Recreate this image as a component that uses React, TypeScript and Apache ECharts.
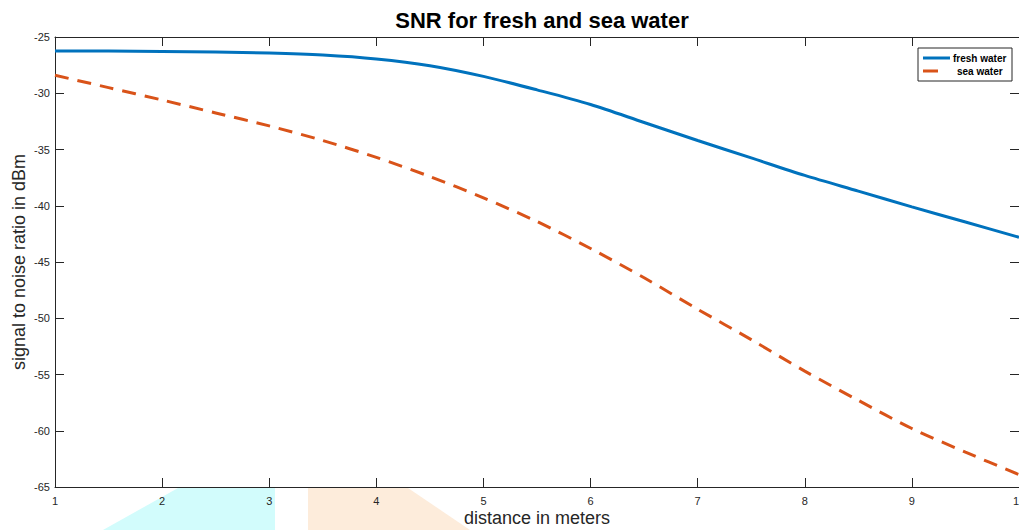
import React, { useEffect, useRef } from "react";
import * as echarts from "echarts";

const distance = [1, 1.5, 2, 2.5, 3, 3.5, 4, 4.5, 5, 5.5, 6, 6.5, 7, 7.5, 8, 8.5, 9, 9.5, 10];
const freshWater = [-26.24, -26.25, -26.28, -26.33, -26.42, -26.6, -26.95, -27.55, -28.5, -29.7, -31.0, -32.6, -34.2, -35.75, -37.3, -38.7, -40.1, -41.45, -42.8];
const seaWater = [-28.4, -29.5, -30.6, -31.75, -32.9, -34.2, -35.7, -37.4, -39.3, -41.4, -43.8, -46.4, -49.2, -51.9, -54.7, -57.3, -59.8, -61.9, -63.9];
const xTicks = [1, 2, 3, 4, 5, 6, 7, 8, 9, 10];
const yTicks = [-65, -60, -55, -50, -45, -40, -35, -30, -25];

const FONT = "'Liberation Sans', Arial, Helvetica, sans-serif";
const AX = "#262626";

export default function App() {
  const ref = useRef<HTMLDivElement>(null);
  useEffect(() => {
    if (!ref.current) return;
    const chart = echarts.init(ref.current, undefined, { renderer: "svg" });
    const pair = (xs: number[], ys: number[]) => xs.map((x, i) => [x, ys[i]]);
    const axisCommon = {
      axisLine: { show: true, onZero: false, lineStyle: { color: AX, width: 1 } },
      axisTick: { show: true, inside: true, length: 9, lineStyle: { color: AX } },
      splitLine: { show: false },
    };
    chart.setOption({
      animation: false,
      backgroundColor: "#ffffff",
      title: {
        text: "SNR for fresh and sea water",
        left: 537,
        textAlign: "center",
        top: 4,
        textStyle: { fontFamily: FONT, fontSize: 22, fontWeight: "bold", color: "#000" },
      },
      grid: { left: 55, right: 0, top: 37, bottom: 43, containLabel: false, outerBoundsMode: "none" },
      xAxis: [
        {
          type: "value",
          position: "bottom",
          min: xTicks[0],
          max: xTicks[xTicks.length - 1],
          interval: 1,
          name: "distance in meters",
          nameLocation: "middle",
          nameGap: 22,
          nameMoveOverlap: false,
          nameTextStyle: { fontFamily: FONT, fontSize: 18, color: AX },
          axisLabel: { fontFamily: FONT, fontSize: 11, color: AX, margin: 8 },
          ...axisCommon,
        },
        {
          type: "value",
          position: "top",
          min: xTicks[0],
          max: xTicks[xTicks.length - 1],
          interval: 1,
          axisLabel: { show: false },
          ...axisCommon,
        },
      ],
      yAxis: [
        {
          type: "value",
          position: "left",
          min: yTicks[0],
          max: yTicks[yTicks.length - 1],
          interval: 5,
          name: "signal to noise ratio in dBm",
          nameLocation: "middle",
          nameGap: 27,
          nameMoveOverlap: false,
          nameTextStyle: { fontFamily: FONT, fontSize: 18, color: AX },
          axisLabel: { fontFamily: FONT, fontSize: 11, color: AX, margin: 5 },
          ...axisCommon,
        },
        {
          type: "value",
          position: "right",
          min: yTicks[0],
          max: yTicks[yTicks.length - 1],
          interval: 5,
          axisLabel: { show: false },
          ...axisCommon,
        },
      ],
      series: [
        {
          name: "fresh water",
          type: "line",
          data: pair(distance, freshWater),
          smooth: 0.3,
          showSymbol: false,
          lineStyle: { color: "#0072BD", width: 3 },
          z: 3,
        },
        {
          name: "sea water",
          type: "line",
          data: pair(distance, seaWater),
          smooth: 0.3,
          showSymbol: false,
          lineStyle: { color: "#D95319", width: 3, type: [14, 9] },
          z: 3,
        },
      ],
      graphic: [
        {
          type: "polygon",
          z: -10,
          shape: { points: [[103, 530], [178, 488], [275, 488], [275, 530]] },
          style: { fill: "#d2fcfc" },
        },
        {
          type: "polygon",
          z: -10,
          shape: { points: [[308, 488], [408, 488], [470, 530], [308, 530]] },
          style: { fill: "#fdecdb" },
        },
        {
          type: "rect",
          z: 100,
          shape: { x: 918, y: 48, width: 94, height: 33 },
          style: { fill: "#ffffff", stroke: "#262626", lineWidth: 1 },
        },
        {
          type: "line",
          z: 101,
          shape: { x1: 923, y1: 58, x2: 950, y2: 58 },
          style: { stroke: "#0072BD", lineWidth: 3 },
        },
        {
          type: "line",
          z: 101,
          shape: { x1: 923, y1: 71, x2: 938, y2: 71 },
          style: { stroke: "#D95319", lineWidth: 3 },
        },
        {
          type: "text",
          z: 101,
          x: 953,
          y: 58,
          style: { text: "fresh water", fontFamily: FONT, fontSize: 10, fontWeight: "bold", fill: "#000", verticalAlign: "middle" },
        },
        {
          type: "text",
          z: 101,
          x: 957,
          y: 71,
          style: { text: "sea water", fontFamily: FONT, fontSize: 10, fontWeight: "bold", fill: "#000", verticalAlign: "middle" },
        },
      ],
    });
    return () => chart.dispose();
  }, []);
  return (
    <div
      ref={ref}
      style={{ position: "fixed", left: 0, top: 0, width: 1019, height: 530, background: "#fff" }}
    />
  );
}
